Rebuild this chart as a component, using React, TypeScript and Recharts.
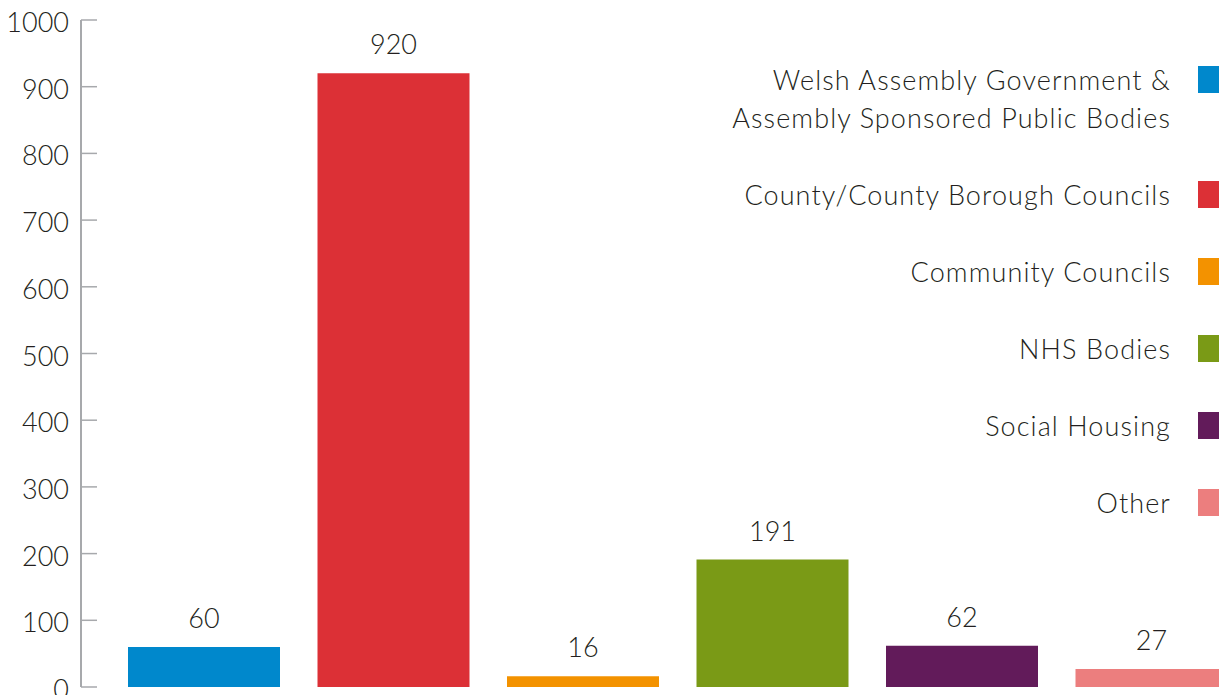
import { BarChart, Bar, XAxis, YAxis, Cell, LabelList, Legend } from 'recharts';

const categories = [
  'Welsh Assembly Government & Assembly Sponsored Public Bodies',
  'County/County Borough Councils',
  'Community Councils',
  'NHS Bodies',
  'Social Housing',
  'Other',
];
const legendLines = [
  ['Welsh Assembly Government &', 'Assembly Sponsored Public Bodies'],
  ['County/County Borough Councils'],
  ['Community Councils'],
  ['NHS Bodies'],
  ['Social Housing'],
  ['Other'],
];
const values = [60, 920, 16, 191, 62, 27];
const colors = ['#0088cc', '#dc3036', '#f39200', '#7a9a16', '#621b5a', '#ec7e7e'];
const yTicks = [0, 100, 200, 300, 400, 500, 600, 700, 800, 900, 1000];

const data = categories.map((name, i) => ({ name, value: values[i] }));

const FONT = 'Lato, "Open Sans", sans-serif';
const TEXT = '#231f20';
const AXIS = '#a7a9ac';
const FS = 27;

const YTick = ({ x, y, payload }: any) => (
  <g>
    <line x1={x + 12} x2={x + 28} y1={y} y2={y} stroke={AXIS} strokeWidth={1.5} />
    <text
      x={x}
      y={y}
      dy={12}
      textAnchor="end"
      fontSize={FS}
      fontWeight={300}
      fill={TEXT}
      fontFamily={FONT}
    >
      {payload.value}
    </text>
  </g>
);

const LegendContent = () => (
  <div
    style={{
      display: 'flex',
      flexDirection: 'column',
      alignItems: 'flex-end',
      fontFamily: FONT,
      fontSize: FS,
      fontWeight: 300,
      letterSpacing: 1.1,
      color: TEXT,
    }}
  >
    {legendLines.map((lines, i) => (
      <div key={i} style={{ display: 'flex', alignItems: 'flex-start', marginBottom: 39 }}>
        <div style={{ textAlign: 'right', lineHeight: '38px' }}>
          {lines.map((l) => (
            <div key={l}>{l}</div>
          ))}
        </div>
        <div
          style={{
            width: 27,
            height: 27,
            marginTop: 5,
            marginLeft: 27,
            background: colors[i],
          }}
        />
      </div>
    ))}
  </div>
);

export default function App() {
  return (
    <div
      style={{
        position: 'absolute',
        left: 0,
        top: 0,
        width: 1219,
        height: 695,
        overflow: 'hidden',
        background: '#fff',
      }}
    >
      <BarChart
        width={1246}
        height={695}
        data={data}
        margin={{ top: 20, right: 0, left: 0, bottom: 8 }}
      >
        <XAxis
          dataKey="name"
          height={0}
          tick={false}
          tickLine={false}
          axisLine={{ stroke: AXIS, strokeWidth: 2 }}
          padding={{ left: 28, right: 0 }}
        />
        <YAxis
          width={81}
          domain={[0, 1000]}
          ticks={yTicks}
          interval={0}
          tickSize={0}
          tickMargin={12}
          tickLine={false}
          axisLine={{ stroke: AXIS, strokeWidth: 2 }}
          tick={<YTick />}
        />
        <Legend
          layout="vertical"
          align="center"
          verticalAlign="middle"
          content={<LegendContent />}
          wrapperStyle={{ left: 0, top: 61, width: 1225, height: 'auto' }}
        />
        <Bar dataKey="value" barSize={152} isAnimationActive={false}>
          {data.map((d, i) => (
            <Cell key={d.name} fill={colors[i]} />
          ))}
          <LabelList
            dataKey="value"
            position="top"
            offset={19}
            fontSize={FS}
            fontWeight={300}
            fill={TEXT}
            fontFamily={FONT}
          />
        </Bar>
      </BarChart>
    </div>
  );
}
